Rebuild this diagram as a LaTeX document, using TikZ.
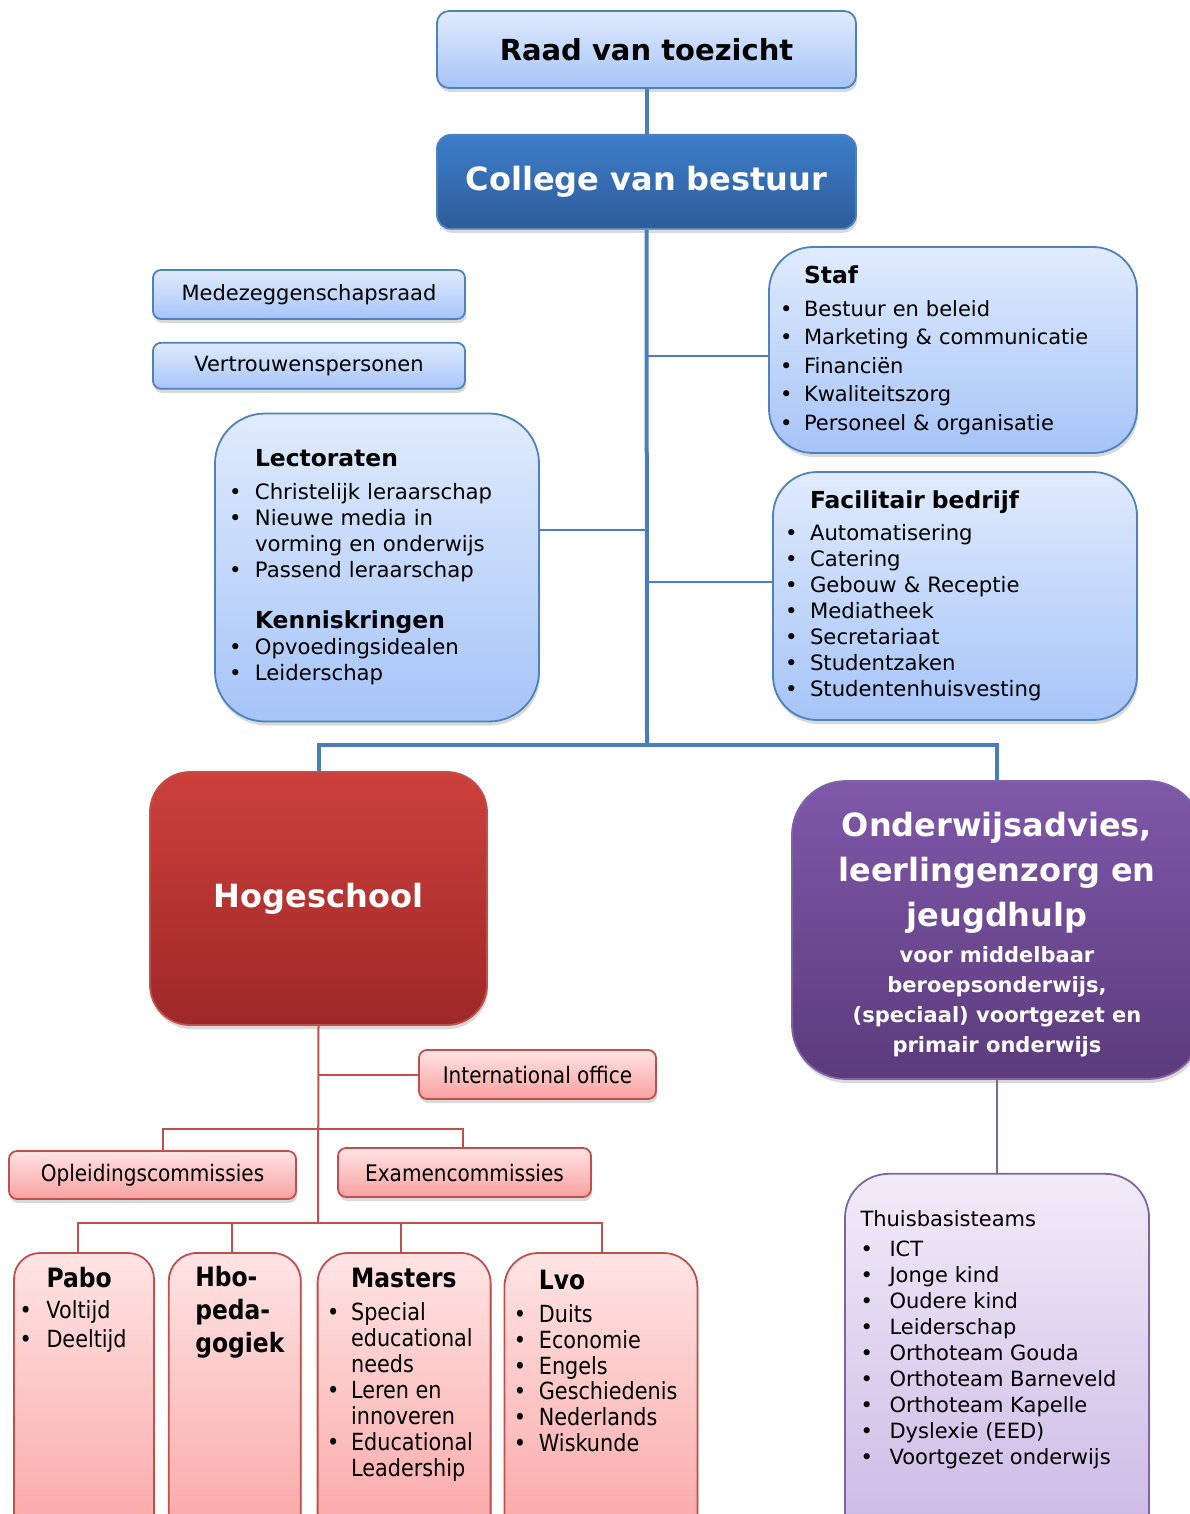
\documentclass[tikz,border=0pt]{standalone}
\usepackage{fontspec}
\setmainfont{DejaVu Sans}
\newfontfamily\narrowfont{DejaVu Sans}[FakeStretch=0.88]
\usetikzlibrary{positioning,shadows}

\definecolor{blueline}{HTML}{4A7EBB}
\definecolor{blueborder}{HTML}{4F81BD}
\definecolor{lblueA}{HTML}{E0EBFD}
\definecolor{lblueB}{HTML}{A6C4F8}
\definecolor{dblueA}{HTML}{3D7DCA}
\definecolor{dblueB}{HTML}{2E5C99}
\definecolor{redline}{HTML}{C0504D}
\definecolor{redA}{HTML}{CD403C}
\definecolor{redB}{HTML}{9E2828}
\definecolor{pinkA}{HTML}{FFE4E4}
\definecolor{pinkB}{HTML}{F9A0A0}
\definecolor{purpline}{HTML}{8064A2}
\definecolor{purpA}{HTML}{7F58AA}
\definecolor{purpB}{HTML}{5C3B7C}
\definecolor{lpurpA}{HTML}{F1ECF9}
\definecolor{lpurpB}{HTML}{C8B4E3}

\tikzstyle{boxshadow} = [drop shadow={opacity=0.3,shadow xshift=0.6pt,shadow yshift=-2pt}]
\tikzstyle{bluebox}  = [draw=blueborder,line width=0.9pt,top color=lblueA,bottom color=lblueB,boxshadow,inner sep=2pt]
\tikzstyle{cvbbox}   = [draw=blueborder,line width=0.9pt,top color=dblueA,bottom color=dblueB,boxshadow,text=white]
\tikzstyle{hsbox}    = [draw=redline,line width=0.9pt,top color=redA,bottom color=redB,boxshadow,text=white]
\tikzstyle{pinkbox}  = [draw=redline,line width=0.9pt,top color=pinkA,bottom color=pinkB,boxshadow,inner sep=2pt]
\tikzstyle{owbox}    = [draw=purpline,line width=0.9pt,top color=purpA,bottom color=purpB,boxshadow]
\tikzstyle{lpurpbox} = [draw=purpline,line width=0.9pt,top color=lpurpA,bottom color=lpurpB,boxshadow]
\tikzstyle{listtext} = [inner sep=0pt,align=left]
\tikzstyle{mainline} = [draw=blueline,line width=2pt]
\tikzstyle{subline}  = [draw=blueline,line width=1pt]
\tikzstyle{redconn}  = [draw=redline,line width=1pt]
\tikzstyle{purpconn} = [draw=purpline,line width=1pt]

\newcommand{\bitem}[2][12pt]{\makebox[#1][l]{\textbullet}#2}
\newcommand{\bcont}[2][12pt]{\hspace*{#1}#2}
\newcommand{\heading}[2][11.7]{{\fontsize{#1}{14}\selectfont\bfseries #2}}

\begin{document}
\begin{tikzpicture}[x=0.5pt,y=-0.5pt]
\useasboundingbox (0,0) rectangle (1189,1514);

% bestuur
\node[bluebox, rounded corners=6pt, minimum width=209.5pt, minimum height=38.5pt,
      font=\fontsize{14.5}{17}\selectfont\bfseries] (raad) at (646.5,49.5) {Raad van toezicht};
\node[cvbbox, rounded corners=7pt, minimum width=209.5pt, minimum height=47pt,
      font=\fontsize{16}{19}\selectfont\bfseries] (cvb) [below=22.5pt of raad] {College van bestuur};

\node[bluebox, rounded corners=4pt, minimum width=156pt, minimum height=24.5pt,
      font=\fontsize{10.5}{12}\selectfont] (mzr) at (309,294.5) {Medezeggenschapsraad};
\node[bluebox, rounded corners=4pt, minimum width=156pt, minimum height=23pt,
      font=\fontsize{10.5}{12}\selectfont] (vtp) [below=11pt of mzr] {Vertrouwenspersonen};

\node[bluebox, rounded corners=22pt, minimum width=184pt, minimum height=103pt,
      text width=173pt, align=left, font=\fontsize{10.5}{14.25}\selectfont] (staf) at (953,350)
  {\bcont{\heading{Staf}}\\[2.25pt]
   \bitem{Bestuur en beleid}\\
   \bitem{Marketing \& communicatie}\\
   \bitem{Financiën}\\
   \bitem{Kwaliteitszorg}\\
   \bitem{Personeel \& organisatie}};

\node[bluebox, rounded corners=22pt, minimum width=182pt, minimum height=124pt,
      text width=170pt, align=left, font=\fontsize{10.6}{13}\selectfont] (fac) at (955,596)
  {\bcont[12.5pt]{\heading{Facilitair bedrijf}}\\[3pt]
   \bitem[12.5pt]{Automatisering}\\
   \bitem[12.5pt]{Catering}\\
   \bitem[12.5pt]{Gebouw \& Receptie}\\
   \bitem[12.5pt]{Mediatheek}\\
   \bitem[12.5pt]{Secretariaat}\\
   \bitem[12.5pt]{Studentzaken}\\
   \bitem[12.5pt]{Studentenhuisvesting}};

\node[bluebox, rounded corners=25pt, minimum width=162pt, minimum height=154pt,
      text width=148pt, align=left, font=\fontsize{10.6}{13}\selectfont] (lect) at (377,567.5)
  {\bcont[13pt]{\heading{Lectoraten}}\\[3.5pt]
   \bitem[13pt]{Christelijk leraarschap}\\
   \bitem[13pt]{Nieuwe media in}\\
   \bcont[13pt]{vorming en onderwijs}\\
   \bitem[13pt]{Passend leraarschap}\\[12.5pt]
   \bcont[13pt]{\heading{Kenniskringen}}\\
   \bitem[13pt]{Opvoedingsidealen}\\
   \bitem[13pt]{Leiderschap}};

% divisies
\node[hsbox, rounded corners=20pt, minimum width=168.5pt, minimum height=126.5pt,
      font=\fontsize{16}{19}\selectfont\bfseries] (hs) at (318.5,898.5) {Hogeschool};
\node[owbox, rounded corners=27pt, minimum width=205pt, minimum height=149pt] (ow) at (997,930) {};
\node[align=center, text=white, font=\bfseries\fontsize{16}{22.5}\selectfont] (owtxt)
      at ([yshift=-2.5pt]ow.center)
  {Onderwijsadvies,\\ leerlingenzorg en\\ jeugdhulp\\[-4.5pt]
   {\fontsize{10.5}{15}\selectfont voor middelbaar}\\[-7.5pt]
   {\fontsize{10.5}{15}\selectfont beroepsonderwijs,}\\[-7.5pt]
   {\fontsize{10.5}{15}\selectfont (speciaal) voortgezet en}\\[-7.5pt]
   {\fontsize{10.5}{15}\selectfont primair onderwijs}};

% hogeschool
\node[pinkbox, rounded corners=4pt, minimum width=118.5pt, minimum height=24.5pt,
      font=\narrowfont\fontsize{11.4}{13}\selectfont] (intl) at (537.5,1074.5) {International office};
\node[pinkbox, rounded corners=4pt, minimum width=143.5pt, minimum height=24pt,
      font=\narrowfont\fontsize{11.4}{13}\selectfont] (opl) at (152.5,1175) {Opleidingscommissies};
\node[pinkbox, rounded corners=4pt, minimum width=126.5pt, minimum height=24.5pt,
      font=\narrowfont\fontsize{11.4}{13}\selectfont] (exa) at (464.5,1172.5) {Examencommissies};

\node[pinkbox, rounded corners=13pt, minimum width=70pt, minimum height=158.5pt] (pabo) at (84,1411.5) {};
\node[pinkbox, rounded corners=14pt, minimum width=66pt, minimum height=158.5pt] (hbo) [right=6.5pt of pabo] {};
\node[pinkbox, rounded corners=15pt, minimum width=86.5pt, minimum height=158.5pt] (mast) [right=7.5pt of hbo] {};
\node[pinkbox, rounded corners=17pt, minimum width=96.5pt, minimum height=158.5pt] (lvo) [right=6pt of mast] {};

\node[listtext, below right=7.5pt and 3pt of pabo.north west,
      font=\narrowfont\fontsize{11.8}{14.5}\selectfont] (pabotxt)
  {\bcont[13.5pt]{\heading[13.3]{Pabo}}\\[1pt]
   \bitem[13.5pt]{Voltijd}\\
   \bitem[13.5pt]{Deeltijd}};
\node[listtext, below right=7pt and 13.5pt of hbo.north west,
      font=\narrowfont\bfseries\fontsize{13.3}{16.5}\selectfont] (hbotxt)
  {Hbo-\\ peda-\\ gogiek};
\node[listtext, below right=8pt and 5pt of mast.north west,
      font=\narrowfont\fontsize{11.8}{13}\selectfont] (masttxt)
  {\bcont{\heading[13.3]{Masters}}\\[3.5pt]
   \bitem{Special}\\
   \bcont{educational}\\
   \bcont{needs}\\
   \bitem{Leren en}\\
   \bcont{innoveren}\\
   \bitem{Educational}\\
   \bcont{Leadership}};
\node[listtext, below right=9pt and 5pt of lvo.north west,
      font=\narrowfont\fontsize{11.8}{12.85}\selectfont] (lvotxt)
  {\bcont[12.5pt]{\heading[13.3]{Lvo}}\\[3.5pt]
   \bitem[12.5pt]{Duits}\\
   \bitem[12.5pt]{Economie}\\
   \bitem[12.5pt]{Engels}\\
   \bitem[12.5pt]{Geschiedenis}\\
   \bitem[12.5pt]{Nederlands}\\
   \bitem[12.5pt]{Wiskunde}};

% onderwijsadvies
\node[lpurpbox, rounded corners=22pt, minimum width=152pt, minimum height=199pt] (thb) [below=46.5pt of ow] {};
\node[listtext, below right=18.5pt and 8pt of thb.north west,
      font=\fontsize{10.5}{13}\selectfont] (thbtxt)
  {Thuisbasisteams\\[2pt]
   \bitem[14.5pt]{ICT}\\
   \bitem[14.5pt]{Jonge kind}\\
   \bitem[14.5pt]{Oudere kind}\\
   \bitem[14.5pt]{Leiderschap}\\
   \bitem[14.5pt]{Orthoteam Gouda}\\
   \bitem[14.5pt]{Orthoteam Barneveld}\\
   \bitem[14.5pt]{Orthoteam Kapelle}\\
   \bitem[14.5pt]{Dyslexie (EED)}\\
   \bitem[14.5pt]{Voortgezet onderwijs}};

% lijnen
\coordinate (spine) at (647,745);
\coordinate (comj) at (318,1129);
\coordinate (stj) at (318,1223);

\path[mainline] (raad) -- (cvb);
\path[mainline] (cvb) -- (spine);
\path[mainline] (hs.north) |- (spine) -| (ow.north);
\path[subline] ([yshift=-3pt]staf.west) -- ([yshift=-3pt]staf.west -| cvb.south);
\path[subline] ([yshift=7pt]fac.west) -- ([yshift=7pt]fac.west -| cvb.south);
\path[subline] ([yshift=18.75pt]lect.east) -- ([yshift=18.75pt]lect.east -| cvb.south);

\path[redconn] (hs.south) -- (stj);
\path[redconn] (intl.west) -- (intl.west -| hs.south);
\path[redconn] ([xshift=5pt]opl.north) |- (comj) -| ([xshift=-0.75pt]exa.north);
\path[redconn] ([xshift=-3pt]pabo.north) |- (stj) -| ([xshift=0.75pt]lvo.north);
\path[redconn] ([xshift=-1.5pt]hbo.north) -- ([xshift=-1.5pt]hbo.north |- stj);
\path[redconn] ([xshift=-1.75pt]mast.north) -- ([xshift=-1.75pt]mast.north |- stj);

\path[purpconn] (ow) -- (thb);

\end{tikzpicture}
\end{document}
